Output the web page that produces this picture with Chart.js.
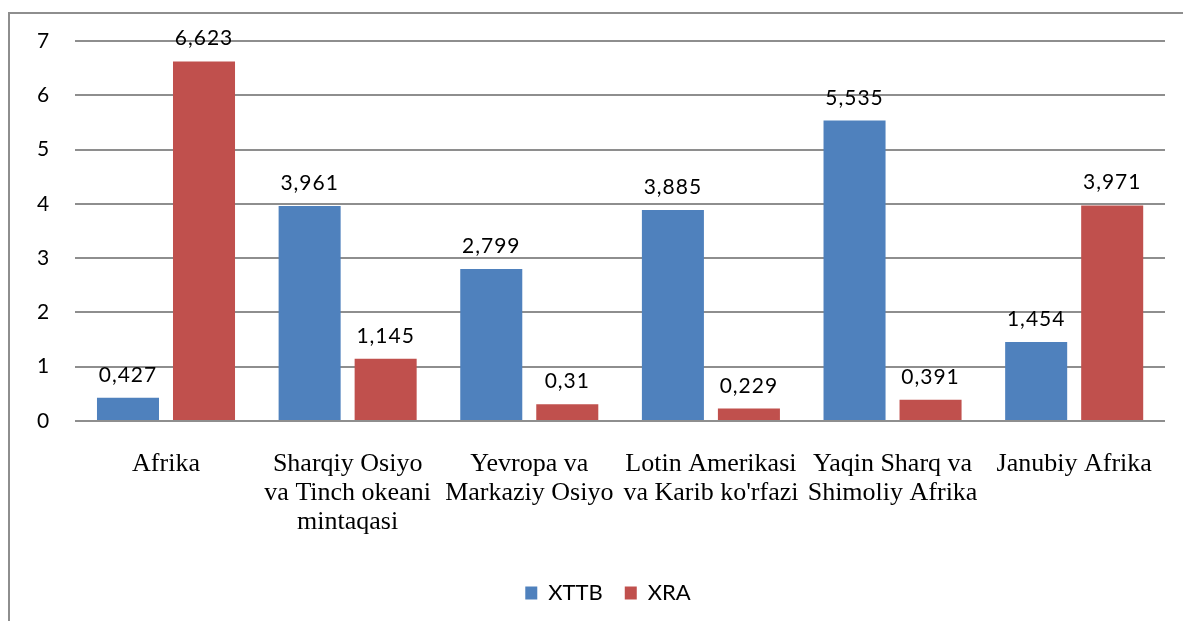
<!DOCTYPE html>
<html>
<head>
<meta charset="utf-8">
<script src="https://cdn.jsdelivr.net/npm/chart.js@4/dist/chart.umd.min.js"></script>
<style>
  html, body { margin: 0; padding: 0; background: #fff; }
  #wrap { position: relative; width: 1183px; height: 621px; }
  #frame { position: absolute; left: 8px; top: 12px; right: 0; bottom: 0;
           border-left: 2px solid #8e8e8e; border-top: 2px solid #8e8e8e; }
  canvas { position: absolute; left: 0; top: 0; }
</style>
</head>
<body>
<div id="wrap">
  <div id="frame"></div>
  <canvas id="chart" width="1183" height="621"></canvas>
</div>
<script>
const categories = [
    ['Afrika'],
    ['Sharqiy Osiyo', 'va Tinch okeani', 'mintaqasi'],
    ['Yevropa va', 'Markaziy Osiyo'],
    ['Lotin Amerikasi', "va Karib ko'rfazi"],
    ['Yaqin Sharq va', 'Shimoliy Afrika'],
    ['Janubiy Afrika']
];
const xttbValues = [0.427, 3.961, 2.799, 3.885, 5.535, 1.454];
const xraValues = [6.623, 1.145, 0.31, 0.229, 0.391, 3.971];
const yMin = 0, yMax = 7, yStep = 1;

const fmt = v => String(v).replace('.', ',');

// value labels above each bar
const barLabels = {
    id: 'barLabels',
    afterDatasetsDraw(chart) {
        const ctx = chart.ctx;
        ctx.save();
        ctx.font = '21px Lato';
        ctx.fillStyle = '#000';
        ctx.textAlign = 'center';
        ctx.textBaseline = 'alphabetic';
        if ('letterSpacing' in ctx) ctx.letterSpacing = '1px';
        chart.data.datasets.forEach((ds, i) => {
            chart.getDatasetMeta(i).data.forEach((bar, j) => {
                ctx.fillText(fmt(ds.data[j]), bar.x, bar.y - 16);
            });
        });
        ctx.restore();
    }
};

// legend sits a bit right of the canvas centre in the original
const legendShift = {
    id: 'legendShift',
    afterLayout(chart) {
        if (chart.legend) {
            chart.legend.left += 20;
            chart.legend.right += 20;
        }
    }
};

new Chart(document.getElementById('chart'), {
    type: 'bar',
    data: {
        labels: categories,
        datasets: [
            { label: 'XTTB', data: xttbValues, backgroundColor: '#4f81bd' },
            { label: 'XRA', data: xraValues, backgroundColor: '#c0504d' }
        ]
    },
    options: {
        responsive: false,
        animation: false,
        categoryPercentage: 0.837,
        barPercentage: 0.816,
        layout: { padding: { left: 11, right: 18, top: 41, bottom: 7 } },
        plugins: {
            tooltip: { enabled: false },
            legend: {
                position: 'bottom',
                labels: {
                    color: '#000',
                    font: { family: 'Lato', size: 22 },
                    boxWidth: 12,
                    boxHeight: 13,
                    padding: 22
                }
            }
        },
        scales: {
            x: {
                grid: { display: false, drawTicks: false },
                border: { display: false },
                afterFit: s => { s.height = 139; },
                ticks: {
                    color: '#000',
                    maxRotation: 0,
                    autoSkip: false,
                    padding: 29,
                    font: { family: 'Liberation Serif', size: 26, lineHeight: 1.115 }
                }
            },
            y: {
                min: yMin,
                max: yMax,
                grid: { color: '#8e8e8e', lineWidth: 2, drawTicks: false },
                border: { display: false },
                ticks: {
                    stepSize: yStep,
                    color: '#000',
                    padding: 26,
                    font: { family: 'Lato', size: 21 }
                }
            }
        }
    },
    plugins: [barLabels, legendShift]
});
</script>
</body>
</html>
